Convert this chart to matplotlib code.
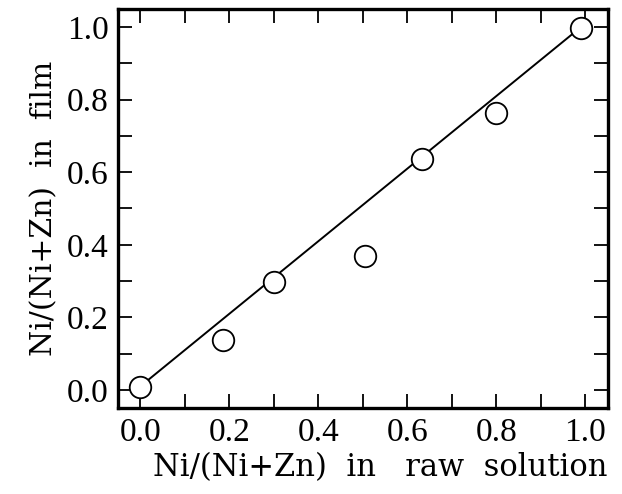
import matplotlib
matplotlib.use("Agg")
import matplotlib.pyplot as plt
from matplotlib.ticker import MultipleLocator

# measured points
x_raw = [0.0, 0.185, 0.30, 0.505, 0.632, 0.80, 0.99]
y_film = [0.008, 0.138, 0.298, 0.370, 0.635, 0.762, 0.997]

# guide line
fit_x = [0.0, 0.99]
fit_y = [0.01, 1.0]

plt.rcParams['font.family'] = 'DejaVu Serif'

fig = plt.figure(figsize=(6.22, 4.94), dpi=100)
ax = fig.add_axes([0.190, 0.174, 0.787, 0.808])

ax.plot(fit_x, fit_y, color='black', lw=1.4, zorder=2)
ax.plot(x_raw, y_film, 'o', ms=15.5, mfc='white', mec='black', mew=1.3, zorder=3)

ax.set_xlim(-0.05, 1.05)
ax.set_ylim(-0.05, 1.05)

for a in (ax.xaxis, ax.yaxis):
    a.set_major_locator(MultipleLocator(0.2))
    a.set_minor_locator(MultipleLocator(0.1))
    a.set_major_formatter(lambda v, p: f"{v:.1f}")

ax.tick_params(which='both', direction='in', top=True, right=True,
               length=10, width=1.3)
ax.tick_params(which='major', pad=7, labelsize=24,
               labelfontfamily='Liberation Serif')
for s in ax.spines.values():
    s.set_linewidth(2.4)

ax.set_xlabel("Ni/(Ni+Zn)  in   raw  solution", fontsize=22, loc='right', labelpad=3)
ax.set_ylabel("Ni/(Ni+Zn)  in  film", fontsize=21.5, labelpad=6)

fig.savefig("out.png", dpi=100)
